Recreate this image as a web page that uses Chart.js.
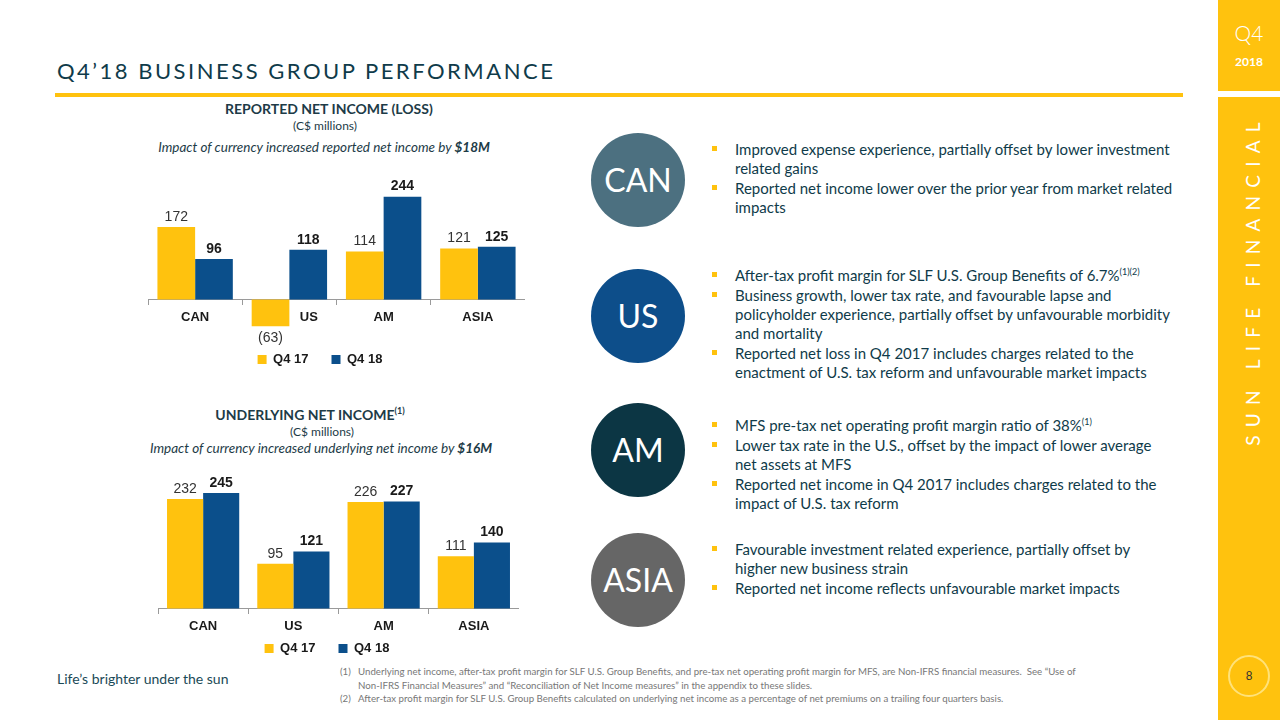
<!DOCTYPE html>
<html>
<head>
<meta charset="utf-8">
<script src="https://cdn.jsdelivr.net/npm/chart.js@4.4.1/dist/chart.umd.min.js"></script>
<style>
  html,body{margin:0;padding:0;background:#fff;}
  #slide{position:relative;width:1280px;height:720px;overflow:hidden;background:#fff;font-family:Lato,"Open Sans",sans-serif;color:#0f3b4a;}
  .abs{position:absolute;}
  #title{left:57px;top:57px;font-size:22px;letter-spacing:2.5px;color:#0f3b4a;white-space:nowrap;}
  #rule{left:55px;top:93px;width:1128px;height:4px;background:#FFC20E;}
  #band{left:1218px;top:0;width:62px;height:720px;background:#FFC20E;}
  #bandgap{left:1218px;top:91px;width:62px;height:6px;background:#fff;}
  #q4{left:1218px;width:62px;top:20px;text-align:center;font-size:21px;color:#fff;font-weight:300;}
  #yr{left:1218px;width:62px;top:54px;text-align:center;font-size:12px;color:#fff;font-weight:700;}
  #brand{left:1252px;top:280px;transform:translate(-50%,-50%) rotate(-90deg);font-size:19px;letter-spacing:8.2px;color:#fff;white-space:nowrap;font-weight:400;}
  #pgc{left:1228px;top:655px;width:38px;height:38px;border:2px solid #FFE27A;border-radius:50%;text-align:center;line-height:38px;font-size:12px;color:#333;font-family:"Liberation Sans",Arial,sans-serif;}
  .ctitle{text-align:center;white-space:nowrap;color:#1d3b47;}
  .ct1{font-weight:700;font-size:14px;}
  .ct2{font-size:12px;}
  .ct3{font-style:italic;font-size:13.5px;}
  .circle{width:94px;height:94px;border-radius:50%;color:#fff;font-size:32px;text-align:center;line-height:94px;}
  .blk{left:712px;font-size:15px;line-height:19px;color:#0f3b4a;white-space:nowrap;}
  .blk div{position:relative;padding-left:23px;margin-bottom:1px;}
  .blk div::before{content:"";position:absolute;left:0;top:6px;width:5px;height:5px;background:#FFC20E;}
  sup{font-size:9px;line-height:0;vertical-align:6px;}
  #footer{left:57px;top:670px;font-size:14px;color:#1b4a57;white-space:nowrap;}
  .fn{left:340px;font-size:9.7px;line-height:13.5px;color:#777;white-space:nowrap;}
  .fn span{display:inline-block;width:18px;}
  canvas{position:absolute;}
</style>
</head>
<body>
<div id="slide">
  <div id="title" class="abs">Q4’18 BUSINESS GROUP PERFORMANCE</div>
  <div id="rule" class="abs"></div>
  <div id="band" class="abs"></div>
  <div id="bandgap" class="abs"></div>
  <div id="q4" class="abs">Q4</div>
  <div id="yr" class="abs">2018</div>
  <div id="brand" class="abs">SUN LIFE FINANCIAL</div>
  <div id="pgc" class="abs">8</div>

  <div class="abs ctitle ct1" style="left:225px;width:200px;top:100px;">REPORTED NET INCOME (LOSS)</div>
  <div class="abs ctitle ct2" style="left:225px;width:200px;top:118px;">(C$ millions)</div>
  <div class="abs ctitle ct3" style="left:124px;width:400px;top:139px;">Impact of currency increased reported net income by <b>$18M</b></div>

  <div class="abs ctitle ct1" style="left:210px;width:200px;top:406px;">UNDERLYING NET INCOME<sup>(1)</sup></div>
  <div class="abs ctitle ct2" style="left:222px;width:200px;top:424px;">(C$ millions)</div>
  <div class="abs ctitle ct3" style="left:121px;width:400px;top:440px;">Impact of currency increased underlying net income by <b>$16M</b></div>

  <canvas id="c1" width="410" height="203" style="left:115px;top:173px;width:410px;height:203px;"></canvas>
  <canvas id="c2" width="384" height="198" style="left:135px;top:467px;width:384px;height:198px;"></canvas>

  <div class="abs circle" style="left:591px;top:133px;background:#4C7080;">CAN</div>
  <div class="abs circle" style="left:591px;top:269px;background:#0D4E8A;">US</div>
  <div class="abs circle" style="left:591px;top:403px;background:#0C3644;">AM</div>
  <div class="abs circle" style="left:591px;top:533px;background:#666666;">ASIA</div>

  <div class="abs blk" style="top:140px;">
    <div>Improved expense experience, partially offset by lower investment<br>related gains</div>
    <div>Reported net income lower over the prior year from market related<br>impacts</div>
  </div>
  <div class="abs blk" style="top:266px;">
    <div>After-tax profit margin for SLF U.S. Group Benefits of 6.7%<sup>(1)(2)</sup></div>
    <div>Business growth, lower tax rate, and favourable lapse and<br>policyholder experience, partially offset by unfavourable morbidity<br>and mortality</div>
    <div>Reported net loss in Q4 2017 includes charges related to the<br>enactment of U.S. tax reform and unfavourable market impacts</div>
  </div>
  <div class="abs blk" style="top:416px;">
    <div>MFS pre-tax net operating profit margin ratio of 38%<sup>(1)</sup></div>
    <div>Lower tax rate in the U.S., offset by the impact of lower average<br>net assets at MFS</div>
    <div>Reported net income in Q4 2017 includes charges related to the<br>impact of U.S. tax reform</div>
  </div>
  <div class="abs blk" style="top:540px;">
    <div>Favourable investment related experience, partially offset by<br>higher new business strain</div>
    <div>Reported net income reflects unfavourable market impacts</div>
  </div>

  <div id="footer" class="abs">Life’s brighter under the sun</div>
  <div class="abs fn" style="top:665px;"><span>(1)</span>Underlying net income, after-tax profit margin for SLF U.S. Group Benefits, and pre-tax net operating profit margin for MFS, are Non-IFRS financial measures.&nbsp; See “Use of<br><span></span>Non-IFRS Financial Measures” and “Reconciliation of Net Income measures” in the appendix to these slides.<br><span>(2)</span>After-tax profit margin for SLF U.S. Group Benefits calculated on underlying net income as a percentage of net premiums on a trailing four quarters basis.</div>
</div>

<script>
const categories = ['CAN', 'US', 'AM', 'ASIA'];
const seriesLabels = ['Q4 17', 'Q4 18'];
const reportedQ417 = [172, -63, 114, 121];
const reportedQ418 = [96, 118, 244, 125];
const underlyingQ417 = [232, 95, 226, 111];
const underlyingQ418 = [245, 121, 227, 140];

const YELLOW = '#FFC20E';
const BLUE = '#0B4F8B';
const ARIAL = '"Liberation Sans", Arial, sans-serif';

const valueLabels = {
  id: 'valueLabels',
  afterDatasetsDraw(chart) {
    const ctx = chart.ctx;
    ctx.save();
    ctx.textAlign = 'center';
    chart.data.datasets.forEach((ds, di) => {
      const meta = chart.getDatasetMeta(di);
      ctx.font = (di === 1 ? 'bold ' : '') + '14px ' + ARIAL;
      ctx.fillStyle = di === 1 ? '#1a1a1a' : '#333333';
      meta.data.forEach((el, i) => {
        const v = ds.data[i];
        if (v >= 0) {
          ctx.textBaseline = 'bottom';
          ctx.fillText(String(v), el.x, el.y - 3);
        } else {
          ctx.textBaseline = 'top';
          ctx.fillText('(' + (-v) + ')', el.x, el.y + 5);
        }
      });
    });
    ctx.restore();
  }
};

function makeChart(id, d17, d18, yMin, yMax, yWidth) {
  return new Chart(document.getElementById(id), {
    type: 'bar',
    data: {
      labels: categories,
      datasets: [
        { label: seriesLabels[0], data: d17, backgroundColor: YELLOW, borderWidth: 0 },
        { label: seriesLabels[1], data: d18, backgroundColor: BLUE, borderWidth: 0 }
      ]
    },
    options: {
      responsive: false,
      animation: false,
      devicePixelRatio: 1,
      categoryPercentage: 0.8,
      barPercentage: 1.0,
      layout: { padding: 0 },
      plugins: {
        legend: {
          position: 'bottom',
          labels: {
            boxWidth: 9, boxHeight: 9, padding: 23,
            color: '#1a1a1a',
            font: { family: ARIAL, size: 13, weight: 'bold' }
          }
        },
        tooltip: { enabled: false },
        title: { display: false }
      },
      scales: {
        x: {
          position: { y: 0 },
          z: 1,
          grid: { display: true, drawOnChartArea: false, drawTicks: true, tickLength: 5, color: '#9a9a9a', offset: true },
          border: { display: true, color: '#9a9a9a', width: 1 },
          ticks: {
            color: '#1a1a1a', padding: 5,
            font: { family: ARIAL, size: 13, weight: 'bold' },
            // shift a category label to the right when its first bar is negative (label sits beside the bar)
            callback(value, index) {
              const lbl = categories[index];
              return d17[index] < 0 ? '\u2002\u2002\u2002\u2002\u2002\u2002' + lbl : lbl;
            }
          }
        },
        y: {
          min: yMin, max: yMax,
          display: true,
          grid: { display: false },
          border: { display: false },
          ticks: { display: false },
          afterFit(scale) { scale.width = yWidth; }
        }
      }
    },
    plugins: [valueLabels]
  });
}

makeChart('c1', reportedQ417, reportedQ418, -72, 300, 33);
makeChart('c2', underlyingQ417, underlyingQ418, -22, 300, 23);
</script>
</body>
</html>
